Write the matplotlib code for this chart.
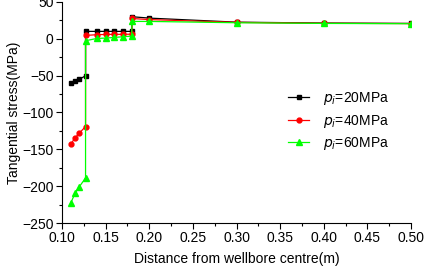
import matplotlib
matplotlib.use("Agg")
import matplotlib.pyplot as plt
from matplotlib.ticker import MultipleLocator

plt.rcParams['font.family'] = ['Liberation Sans', 'DejaVu Sans']

x = [0.11, 0.115, 0.12, 0.127, 0.127, 0.14, 0.15, 0.16, 0.17, 0.18, 0.18, 0.20, 0.30, 0.40, 0.50]
s20 = [-60.7, -57.5, -54.8, -50.3, 10.0, 10.0, 10.0, 10.0, 10.0, 10.0, 29.9, 28.0, 22.5, 21.3, 20.8]
s40 = [-143.0, -134.6, -127.8, -119.2, 4.5, 5.5, 5.8, 6.0, 6.0, 6.2, 27.5, 26.0, 22.2, 21.0, 20.6]
s60 = [-223.0, -209.6, -200.5, -189.0, -2.7, 0.4, 0.9, 1.8, 2.7, 3.6, 23.5, 23.5, 21.7, 20.8, 20.4]
labels = [r'$p_i$=20MPa', r'$p_i$=40MPa', r'$p_i$=60MPa']

fig = plt.figure(figsize=(4.26, 2.70), dpi=100)
ax = fig.add_axes([0.1455, 0.174, 0.8195, 0.819])

ax.plot(x, s20, color='black', marker='s', markersize=3.5, lw=0.9, label=labels[0])
ax.plot(x, s40, color='#ff0000', marker='o', markersize=3.5, lw=0.9, label=labels[1])
ax.plot(x, s60, color='#00ff00', marker='^', markersize=4, lw=0.9, label=labels[2])

ax.set_xlim(0.10, 0.50)
ax.set_ylim(-250, 50)
ax.xaxis.set_major_locator(MultipleLocator(0.05))
ax.xaxis.set_minor_locator(MultipleLocator(0.025))
ax.yaxis.set_major_locator(MultipleLocator(50))
ax.yaxis.set_minor_locator(MultipleLocator(25))
ax.set_xticklabels([f'{v:.2f}' for v in ax.get_xticks()])
ax.spines['top'].set_visible(False)
ax.spines['right'].set_visible(False)
ax.tick_params(which='major', direction='out', length=4, width=0.8, labelsize=10, pad=2)
ax.tick_params(which='minor', direction='out', length=2, width=0.8)
ax.set_xlabel('Distance from wellbore centre(m)', fontsize=10, labelpad=5)
ax.set_ylabel('Tangential stress(MPa)', fontsize=10, labelpad=1)

ax.legend(loc='upper left', bbox_to_anchor=(0.648, 0.60), frameon=False, fontsize=10,
          borderaxespad=0, borderpad=0,
          handlelength=1.5, handletextpad=1.0, labelspacing=0.38)

fig.savefig('out.png', dpi=100)
